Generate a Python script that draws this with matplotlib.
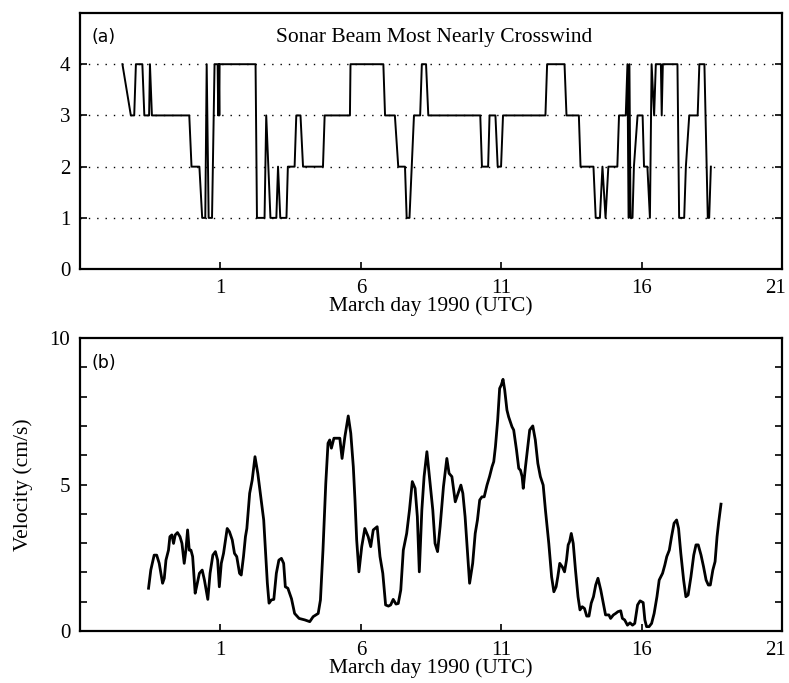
import matplotlib

matplotlib.use("Agg")
import matplotlib.pyplot as plt
import matplotlib.transforms as mtransforms
from matplotlib.ticker import MultipleLocator

plt.rcParams["font.family"] = ["Liberation Serif", "DejaVu Serif"]

# (a) index of the sonar beam closest to crosswind, by March day 1990
beam_day = [
    -2.49, -2.19, -2.07, -2.01, -1.78, -1.71, -1.54, -1.51, -1.44, -0.11,
    -0.03, 0.25, 0.35, 0.46, 0.51, 0.58, 0.70, 0.79, 0.90, 0.92,
    0.94, 0.96, 0.97, 2.25, 2.30, 2.57, 2.63, 2.78, 2.99, 3.05,
    3.13, 3.35, 3.40, 3.64, 3.70, 3.85, 3.94, 4.65, 4.71, 5.61,
    5.63, 6.80, 6.86, 7.21, 7.33, 7.57, 7.63, 7.73, 7.81, 7.89,
    8.11, 8.17, 8.32, 8.40, 10.25, 10.31, 10.53, 10.58, 10.79, 10.87,
    10.99, 11.06, 12.57, 12.63, 13.25, 13.32, 13.76, 13.82, 14.28, 14.36,
    14.51, 14.60, 14.71, 14.81, 15.13, 15.19, 15.43, 15.49, 15.53, 15.56,
    15.60, 15.67, 15.72, 15.85, 16.03, 16.08, 16.20, 16.29, 16.35, 16.44,
    16.50, 16.68, 16.71, 16.75, 17.27, 17.33, 17.51, 17.57, 17.69, 17.99,
    18.05, 18.23, 18.35, 18.40, 18.46,
]
beam = [
    4, 3, 3, 4, 4, 3, 3, 4, 3, 3,
    2, 2, 1, 1, 4, 1, 1, 4, 4, 3,
    4, 3, 4, 4, 1, 1, 3, 1, 1, 2,
    1, 1, 2, 2, 3, 3, 2, 2, 3, 3,
    4, 4, 3, 3, 2, 2, 1, 1, 2, 3,
    3, 4, 4, 3, 3, 2, 2, 3, 3, 2,
    2, 3, 3, 4, 4, 3, 3, 2, 2, 1,
    1, 2, 1, 2, 2, 3, 3, 4, 1, 4,
    1, 1, 2, 3, 3, 2, 2, 1, 4, 3,
    4, 4, 3, 4, 4, 1, 1, 2, 3, 3,
    4, 4, 1, 1, 2,
]

# (b) current speed
vel_day = [
    -1.56, -1.48, -1.36, -1.27, -1.18, -1.12, -1.06, -1.00, -0.94, -0.85,
    -0.80, -0.73, -0.67, -0.61, -0.53, -0.44, -0.37, -0.29, -0.23, -0.17,
    -0.11, -0.05, 0.01, 0.10, 0.15, 0.25, 0.35, 0.43, 0.55, 0.63,
    0.73, 0.82, 0.90, 0.96, 1.03, 1.11, 1.18, 1.24, 1.32, 1.42,
    1.50, 1.58, 1.68, 1.74, 1.82, 1.89, 1.94, 2.04, 2.13, 2.23,
    2.33, 2.45, 2.54, 2.61, 2.67, 2.73, 2.81, 2.90, 2.99, 3.08,
    3.17, 3.25, 3.31, 3.40, 3.53, 3.64, 3.80, 4.00, 4.18, 4.30,
    4.48, 4.56, 4.65, 4.75, 4.83, 4.89, 4.95, 5.04, 5.19, 5.25,
    5.33, 5.43, 5.55, 5.64, 5.73, 5.79, 5.85, 5.93, 6.03, 6.14,
    6.26, 6.35, 6.44, 6.58, 6.68, 6.78, 6.88, 6.98, 7.06, 7.15,
    7.25, 7.33, 7.42, 7.51, 7.63, 7.73, 7.83, 7.93, 8.01, 8.08,
    8.17, 8.25, 8.35, 8.44, 8.56, 8.64, 8.73, 8.82, 8.94, 9.06,
    9.14, 9.24, 9.36, 9.44, 9.56, 9.63, 9.71, 9.80, 9.87, 9.98,
    10.07, 10.15, 10.23, 10.31, 10.39, 10.49, 10.58, 10.67, 10.73, 10.79,
    10.87, 10.94, 11.00, 11.06, 11.12, 11.20, 11.26, 11.32, 11.38, 11.44,
    11.54, 11.62, 11.68, 11.74, 11.78, 11.86, 11.94, 12.01, 12.12, 12.21,
    12.30, 12.39, 12.49, 12.57, 12.69, 12.79, 12.87, 12.95, 13.01, 13.08,
    13.17, 13.25, 13.32, 13.38, 13.43, 13.49, 13.56, 13.64, 13.73, 13.80,
    13.88, 13.96, 14.04, 14.12, 14.20, 14.28, 14.36, 14.44, 14.54, 14.63,
    14.71, 14.83, 14.89, 14.99, 15.07, 15.15, 15.25, 15.31, 15.39, 15.49,
    15.58, 15.67, 15.75, 15.85, 15.94, 16.05, 16.11, 16.17, 16.26, 16.35,
    16.44, 16.54, 16.62, 16.74, 16.82, 16.89, 16.98, 17.06, 17.15, 17.24,
    17.31, 17.39, 17.49, 17.57, 17.65, 17.75, 17.85, 17.93, 18.01, 18.11,
    18.20, 18.29, 18.37, 18.44, 18.53, 18.61, 18.68, 18.74, 18.82,
]
velocity = [
    1.46, 2.08, 2.59, 2.59, 2.31, 1.97, 1.63, 1.80, 2.42, 2.76,
    3.22, 3.28, 2.99, 3.28, 3.36, 3.22, 2.99, 2.31, 2.76, 3.45,
    2.76, 2.76, 2.54, 1.29, 1.51, 1.97, 2.08, 1.74, 1.08, 1.97,
    2.59, 2.71, 2.42, 1.51, 2.31, 2.65, 3.11, 3.50, 3.39, 3.11,
    2.65, 2.54, 1.97, 1.91, 2.54, 3.22, 3.50, 4.70, 5.15, 5.95,
    5.38, 4.47, 3.79, 2.65, 1.63, 0.95, 1.06, 1.08, 1.97, 2.42,
    2.48, 2.31, 1.51, 1.46, 1.10, 0.60, 0.43, 0.38, 0.32, 0.49,
    0.60, 1.06, 2.76, 5.04, 6.41, 6.52, 6.24, 6.58, 6.58, 6.58,
    5.89, 6.63, 7.34, 6.75, 5.61, 4.47, 3.11, 2.02, 2.88, 3.50,
    3.22, 2.88, 3.45, 3.56, 2.54, 1.97, 0.89, 0.85, 0.89, 1.08,
    0.92, 0.94, 1.40, 2.76, 3.33, 4.13, 5.10, 4.87, 3.90, 2.02,
    4.13, 5.27, 6.12, 5.27, 4.13, 2.99, 2.71, 3.56, 4.93, 5.89,
    5.38, 5.27, 4.41, 4.64, 4.98, 4.70, 3.90, 2.65, 1.63, 2.31,
    3.33, 3.79, 4.47, 4.58, 4.58, 4.98, 5.27, 5.61, 5.78, 6.29,
    7.20, 8.28, 8.40, 8.59, 8.23, 7.54, 7.31, 7.14, 6.97, 6.86,
    6.18, 5.55, 5.49, 5.27, 4.87, 5.61, 6.29, 6.86, 7.00, 6.52,
    5.72, 5.27, 4.98, 4.13, 2.99, 1.85, 1.34, 1.51, 1.85, 2.31,
    2.19, 2.02, 2.42, 2.94, 3.05, 3.33, 2.99, 2.08, 1.17, 0.72,
    0.83, 0.77, 0.51, 0.51, 0.95, 1.17, 1.57, 1.80, 1.40, 0.95,
    0.55, 0.55, 0.43, 0.55, 0.60, 0.66, 0.69, 0.43, 0.38, 0.20,
    0.28, 0.20, 0.26, 0.89, 1.03, 0.97, 0.38, 0.15, 0.15, 0.26,
    0.60, 1.17, 1.74, 1.97, 2.25, 2.54, 2.76, 3.22, 3.68, 3.79,
    3.50, 2.65, 1.74, 1.17, 1.23, 1.85, 2.59, 2.94, 2.94, 2.59,
    2.19, 1.74, 1.57, 1.57, 2.08, 2.37, 3.22, 3.73, 4.33,
]

day_ticks = [1, 6, 11, 16, 21]
xlabel = "March day 1990 (UTC)"
panel_font = ["DejaVu Sans"]

fig = plt.figure(figsize=(7.89, 6.83), dpi=100)
ax_a = fig.add_axes([0.1014, 0.606, 0.8900, 0.375])
ax_b = fig.add_axes([0.1014, 0.0761, 0.8900, 0.4290])

# nudge the last day label inward so it stays on the page
shift_left = mtransforms.ScaledTranslation(-7 / 100, 0, fig.dpi_scale_trans)

for ax in (ax_a, ax_b):
    ax.set_xlim(-4, 21)
    ax.set_xticks(day_ticks)
    ax.set_xlabel(xlabel, fontsize=15.5, labelpad=-1)
    for side in ax.spines.values():
        side.set_linewidth(1.6)
    ax.tick_params(axis="both", direction="in", labelsize=15, width=1.2,
                   length=5, pad=7, right=True)
    last = ax.get_xticklabels()[-1]
    last.set_transform(last.get_transform() + shift_left)

# panel (a)
ax_a.plot(beam_day, beam, color="black", lw=1.4)
ax_a.set_ylim(0, 5)
ax_a.set_yticks([0, 1, 2, 3, 4])
for level in [1, 2, 3, 4]:
    ax_a.axhline(level, color="black", lw=1.0, ls=(0, (1, 5)), zorder=0)
ax_a.text(0.505, 0.906, "Sonar Beam Most Nearly Crosswind", transform=ax_a.transAxes,
          ha="center", va="center", fontsize=15.5)
ax_a.text(0.017, 0.906, "(a)", transform=ax_a.transAxes, ha="left", va="center",
          fontsize=12.5, family=panel_font)

# panel (b)
ax_b.plot(vel_day, velocity, color="black", lw=2.0)
ax_b.set_ylim(0, 10)
ax_b.set_yticks([0, 5, 10])
ax_b.yaxis.set_minor_locator(MultipleLocator(1))
ax_b.tick_params(axis="y", which="minor", direction="in", length=5, width=1.2, right=True)
ax_b.set_ylabel("Velocity (cm/s)", fontsize=15.5, labelpad=12)
ax_b.text(0.017, 0.915, "(b)", transform=ax_b.transAxes, ha="left", va="center",
          fontsize=12.5, family=panel_font)

fig.savefig("out.png", dpi=100)
